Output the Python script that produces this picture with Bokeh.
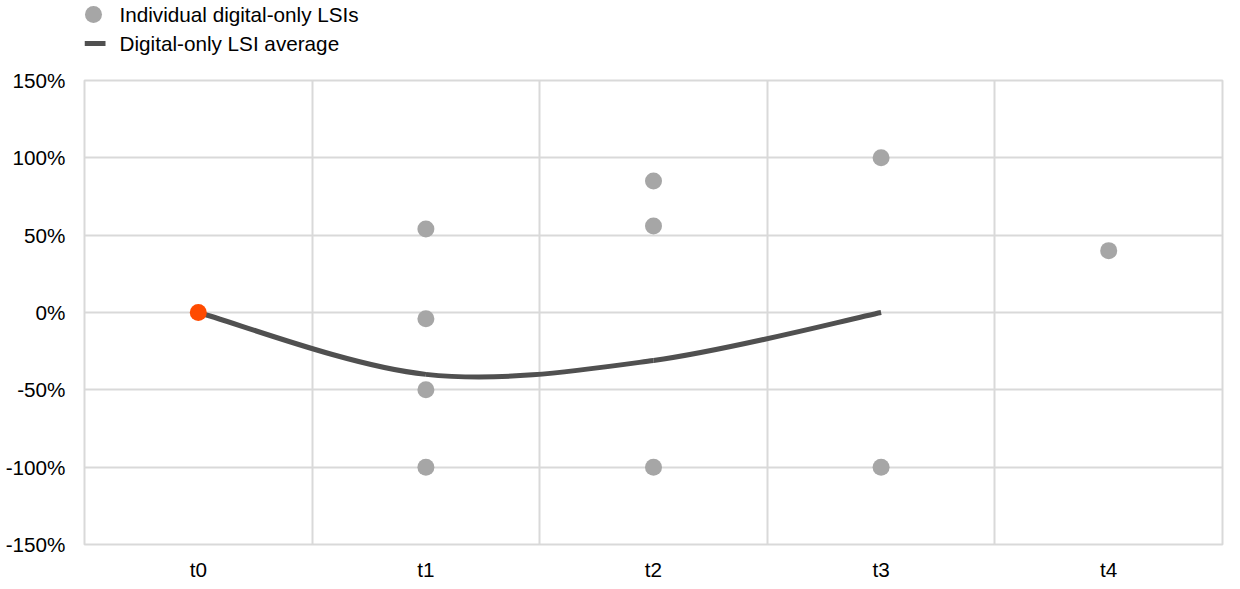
from bokeh.plotting import figure
from bokeh.models import FixedTicker
from bokeh.layouts import column
from bokeh.embed import file_html
from bokeh.resources import INLINE
from bokeh.core.properties import value

categories = ["t0", "t1", "t2", "t3", "t4"]
point_cat = ["t1", "t1", "t1", "t1", "t2", "t2", "t2", "t3", "t3", "t4"]
point_val = [54, -4, -50, -100, 85, 56, -100, 100, -100, 40]
avg_cat = ["t0", "t1", "t2", "t3"]
avg_val = [0, -40, -31, 0]
start_cat = ["t0"]
start_val = [0]
y_ticks = [-150, -100, -50, 0, 50, 100, 150]
legend_labels = ["Individual digital-only LSIs", "Digital-only LSI average"]

def cx(c):
    return categories.index(c) + 0.5

FONT = "Liberation Sans"
FSIZE = "20.7px"
GRID = "#D9D9D9"
GREY = "#A6A6A6"
DARK = "#505050"
ORANGE = "#FF4B00"
W = 1240
LEG_H = 62
H = 589 - LEG_H
LEFT = 84
RIGHT = 18

p = figure(width=W, height=H, output_backend="svg", toolbar_location=None,
           x_range=(0, len(categories)), y_range=(-150, 150),
           min_border_left=LEFT, min_border_right=RIGHT, min_border_top=18, min_border_bottom=45)
p.outline_line_color = GRID
p.outline_line_width = 2

p.xaxis.ticker = FixedTicker(ticks=[cx(c) for c in categories])
p.xaxis.major_label_overrides = {cx(c): c for c in categories}
p.yaxis.ticker = FixedTicker(ticks=y_ticks)
p.yaxis.major_label_overrides = {t: f"{t}%" for t in y_ticks}
for ax in (p.xaxis[0], p.yaxis[0]):
    ax.axis_line_color = None
    ax.major_tick_line_color = None
    ax.minor_tick_line_color = None
    ax.major_label_text_font = FONT
    ax.major_label_text_font_size = FSIZE
    ax.major_label_text_color = "#000000"
p.xaxis.major_label_standoff = 7
p.yaxis.major_label_standoff = 13

p.xgrid.ticker = FixedTicker(ticks=list(range(1, len(categories))))
p.ygrid.ticker = FixedTicker(ticks=y_ticks)
for g in (p.xgrid[0], p.ygrid[0]):
    g.grid_line_color = GRID
    g.grid_line_width = 2

# smooth average line (cardinal spline through the data points)
xs = [cx(c) for c in avg_cat]
ys = list(avg_val)
n = len(xs)
x0s, y0s, x1s, y1s, cx0, cy0, cx1, cy1 = [], [], [], [], [], [], [], []
for i in range(n - 1):
    pxm = xs[i - 1] if i > 0 else xs[i]
    pym = ys[i - 1] if i > 0 else ys[i]
    pxp = xs[i + 2] if i + 2 < n else xs[i + 1]
    pyp = ys[i + 2] if i + 2 < n else ys[i + 1]
    x0s.append(xs[i]); y0s.append(ys[i]); x1s.append(xs[i + 1]); y1s.append(ys[i + 1])
    cx0.append(xs[i] + (xs[i + 1] - pxm) / 6); cy0.append(ys[i] + (ys[i + 1] - pym) / 6)
    cx1.append(xs[i + 1] - (pxp - xs[i]) / 6); cy1.append(ys[i + 1] - (pyp - ys[i]) / 6)
p.bezier(x0=x0s, y0=y0s, x1=x1s, y1=y1s, cx0=cx0, cy0=cy0, cx1=cx1, cy1=cy1,
         line_color=DARK, line_width=5)

p.scatter(x=[cx(c) for c in point_cat], y=point_val, size=17,
          fill_color=GREY, line_color=None)
p.scatter(x=[cx(c) for c in start_cat], y=start_val, size=17,
          fill_color=ORANGE, line_color=None)

# legend strip above the chart; its frame is aligned with the chart's frame,
# so map the x range to page pixels (y downwards)
lf = figure(width=W, height=LEG_H, output_backend="svg", toolbar_location=None,
            x_axis_type=None, y_axis_type=None, x_range=(LEFT, W - RIGHT), y_range=(LEG_H, 0),
            min_border_left=LEFT, min_border_right=RIGHT, min_border_top=0, min_border_bottom=0)
lf.outline_line_color = None
lf.xgrid.visible = False
lf.ygrid.visible = False
row_y = [14, 43]
lf.scatter(x=[93], y=[row_y[0]], size=17, fill_color=GREY, line_color=None)
lf.segment(x0=[84], y0=[row_y[1]], x1=[105], y1=[row_y[1]], line_color=DARK, line_width=5)
lf.text(x=[119, 119], y=row_y, text=legend_labels, text_font=value(FONT),
        text_font_size=FSIZE, text_color="#000000", text_baseline="middle", text_align="left")

layout = column(lf, p, spacing=0)
open("out.html", "w").write(file_html(layout, INLINE))
